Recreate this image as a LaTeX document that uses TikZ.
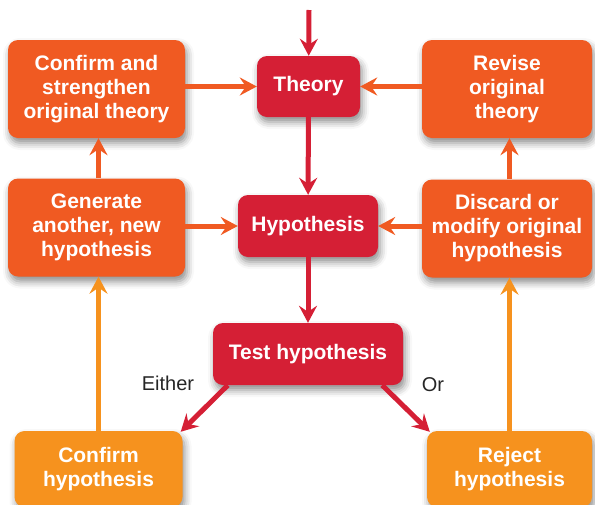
\documentclass[tikz,border=0pt]{standalone}
\usepackage{fontspec}
\setmainfont{Liberation Sans}
\usetikzlibrary{arrows.meta, positioning, shadows.blur}
\definecolor{mRed}{HTML}{D51F35}
\definecolor{mOrange}{HTML}{F05A22}
\definecolor{mYellow}{HTML}{F6921E}

\begin{document}
\begin{tikzpicture}[
    x=1pt, y=-1pt,
    box/.style={rounded corners=10pt, text=white, align=center, inner sep=0pt,
                font=\bfseries\fontsize{21}{24}\selectfont,
                blur shadow={shadow xshift=2pt, shadow yshift=-5pt,
                             shadow blur radius=7pt, shadow opacity=45}},
    redbox/.style={box, fill=mRed},
    orangebox/.style={box, fill=mOrange, minimum height=98pt},
    yellowbox/.style={box, fill=mYellow, minimum width=168pt, minimum height=76pt},
    flow/.style={-{Stealth[length=17pt, width=18pt, inset=6pt]}, line width=5pt},
    redflow/.style={flow, draw=mRed},
    orangeflow/.style={flow, draw=mOrange},
    yellowflow/.style={flow, draw=mYellow},
    ann/.style={font=\fontsize{20}{24}\selectfont, text=black!85},
  ]
    \clip (0,0) rectangle (595,504);

    % middle column
    \node[redbox, minimum width=103pt, minimum height=61pt] (theory) at (308.5,86.5) {Theory};
    \node[redbox, minimum width=140pt, minimum height=62pt] (hyp) at (308,226) {Hypothesis};
    \node[redbox, minimum width=190pt, minimum height=62pt] (test) at (308,354) {Test hypothesis};
    \coordinate (in) at (309,10);

    % left column
    \node[orangebox, minimum width=177pt] (strengthen) at (96.5,89) {Confirm and\\strengthen\\original theory};
    \node[orangebox, minimum width=177pt] (generate) at (96.5,227.5) {Generate\\another, new\\hypothesis};
    \node[yellowbox] (confirm) at (98.5,469) {Confirm\\hypothesis};

    % right column
    \node[orangebox, minimum width=170pt] (revise) at (507,89) {Revise\\original\\theory};
    \node[orangebox, minimum width=170pt] (discard) at (507,228.5) {Discard or\\modify original\\hypothesis};
    \node[yellowbox, minimum width=165pt] (reject) at (509.5,469) {Reject\\hypothesis};

    \node[ann] (either) at (168,383) {Either};
    \node[ann] (or) at (433,385) {Or};

    % connectors
    \draw[redflow] (in) -- (theory);
    \draw[redflow] (theory) -- (hyp);
    \draw[redflow] (hyp) -- (test);
    \draw[redflow] ([xshift=15pt]test.south west) -- ([shift={(-2pt,-1pt)}]confirm.north east);
    \draw[redflow] ([xshift=-21pt]test.south east) -- ([shift={(3pt,-1pt)}]reject.north west);

    \draw[orangeflow] (strengthen.east |- theory) -- (theory.west);
    \draw[orangeflow] (revise.west |- theory) -- (theory.east);
    \draw[orangeflow] (generate.east |- hyp) -- (hyp.west);
    \draw[orangeflow] (discard.west |- hyp) -- (hyp.east);
    \draw[orangeflow] (generate.north -| confirm) -- (strengthen.south -| confirm);
    \draw[orangeflow] (discard.north -| reject) -- (revise.south -| reject);

    \draw[yellowflow] (confirm.north) -- (generate.south -| confirm);
    \draw[yellowflow] (reject.north) -- (discard.south -| reject);
  \end{tikzpicture}
\end{document}
